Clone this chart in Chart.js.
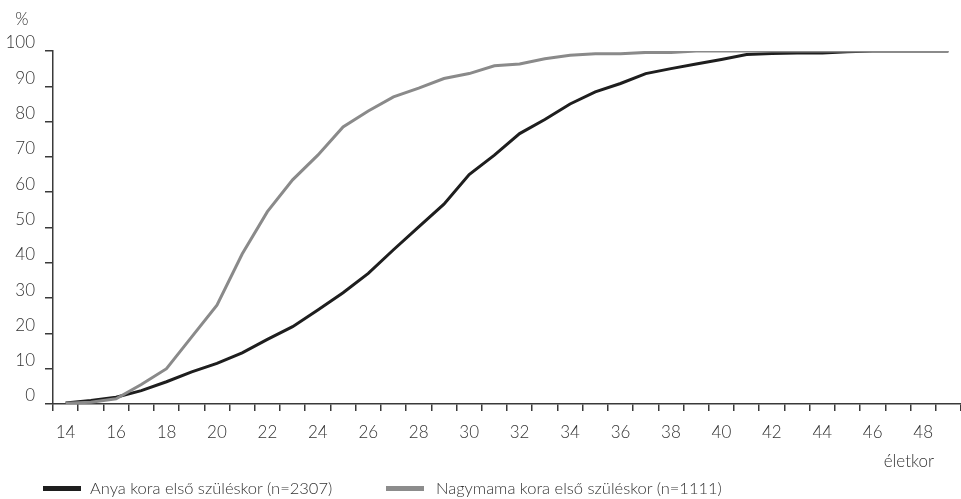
<!DOCTYPE html>
<html>
<head>
<meta charset="utf-8">
<script src="https://cdn.jsdelivr.net/npm/chart.js@4.4.1/dist/chart.umd.min.js"></script>
<style>
  html, body { margin: 0; padding: 0; background: #fff; }
  #wrap { position: relative; width: 961px; height: 499px; }
  #c { position: absolute; left: 0; top: 0; }
  .leg { position: absolute; top: 478px; font-family: Lato, "Open Sans", sans-serif; font-weight: 300; font-size: 16.5px; color: #333; white-space: nowrap; line-height: 20px; }
  .sw { position: absolute; height: 5px; }
</style>
</head>
<body>
<div id="wrap">
  <canvas id="c" width="961" height="499"></canvas>
  <div class="sw" style="left:43px; top:486px; width:38px; background:#1e1e1e;"></div>
  <div class="leg" style="left:90px;">Anya kora első szüléskor (n=2307)</div>
  <div class="sw" style="left:386px; top:486px; width:38px; background:#8c8c8c;"></div>
  <div class="leg" style="left:436px;">Nagymama kora első szüléskor (n=1111)</div>
</div>
<script>
const ages = ['14','15','16','17','18','19','20','21','22','23','24','25','26','27','28','29','30','31','32','33','34','35','36','37','38','39','40','41','42','43','44','45','46','47','48','49'];
const anya = [0.3,1,1.9,3.8,6.3,9.1,11.5,14.5,18.3,21.9,26.6,31.5,37,43.7,50.2,56.6,65,70.5,76.6,80.6,85,88.4,90.8,93.6,95,96.3,97.6,99,99.3,99.4,99.4,99.8,100,100,100,100];
const nagymama = [0.2,0.5,1.5,5.5,10,19,28,42.5,54.5,63.5,70.5,78.5,83,87,89.5,92.2,93.6,95.8,96.3,97.8,98.8,99.2,99.2,99.6,99.6,100,100,100,100,100,100,100,100,100,100,100];
const yTitle = '%';
const xTitle = 'életkor';
const seriesNames = ['Anya kora első szüléskor (n=2307)', 'Nagymama kora első szüléskor (n=1111)'];

const FONT = 'Lato, "Open Sans", sans-serif';
const TXT = '#333';
const AX = '#3a3a3a';

const extraText = {
  id: 'extraText',
  afterDraw(chart) {
    const ctx = chart.ctx;
    ctx.save();
    ctx.fillStyle = TXT;
    ctx.font = '300 17px ' + FONT;
    ctx.textAlign = 'center';
    ctx.textBaseline = 'alphabetic';
    ctx.fillText(yTitle, 22, 25);
    ctx.textAlign = 'right';
    ctx.fillText(xTitle, 934, 467);
    ctx.restore();
  }
};

new Chart(document.getElementById('c'), {
  type: 'line',
  data: {
    labels: ages,
    datasets: [
      { label: seriesNames[0], data: anya, borderColor: '#1e1e1e', borderWidth: 3, pointRadius: 0, tension: 0, order: 2 },
      { label: seriesNames[1], data: nagymama, borderColor: '#8a8a8a', borderWidth: 3, pointRadius: 0, tension: 0, order: 1 }
    ]
  },
  options: {
    responsive: false,
    animation: false,
    layout: { padding: { top: 51, right: 0, left: 0, bottom: 0 } },
    plugins: { legend: { display: false }, tooltip: { enabled: false } },
    scales: {
      x: {
        type: 'category',
        offset: true,
        afterFit(s) { s.height = 95; },
        grid: { offset: true, drawOnChartArea: false, drawTicks: true, tickLength: 7, color: AX, lineWidth: 1.5 },
        border: { display: true, color: AX, width: 1.5 },
        ticks: {
          autoSkip: false, maxRotation: 0, padding: 11,
          color: TXT, font: { family: FONT, size: 17, weight: 300 },
          callback(v, i) { return i % 2 === 0 ? this.getLabelForValue(v) : ''; }
        }
      },
      y: {
        min: 0, max: 100,
        afterFit(s) { s.width = 53; },
        grid: { drawOnChartArea: false, drawTicks: true, tickLength: 8, color: AX, lineWidth: 1.5 },
        border: { display: true, color: AX, width: 1.5 },
        ticks: { stepSize: 10, padding: 10, labelOffset: -8, color: TXT, font: { family: FONT, size: 17, weight: 300 } }
      }
    }
  },
  plugins: [extraText]
});
</script>
</body>
</html>
